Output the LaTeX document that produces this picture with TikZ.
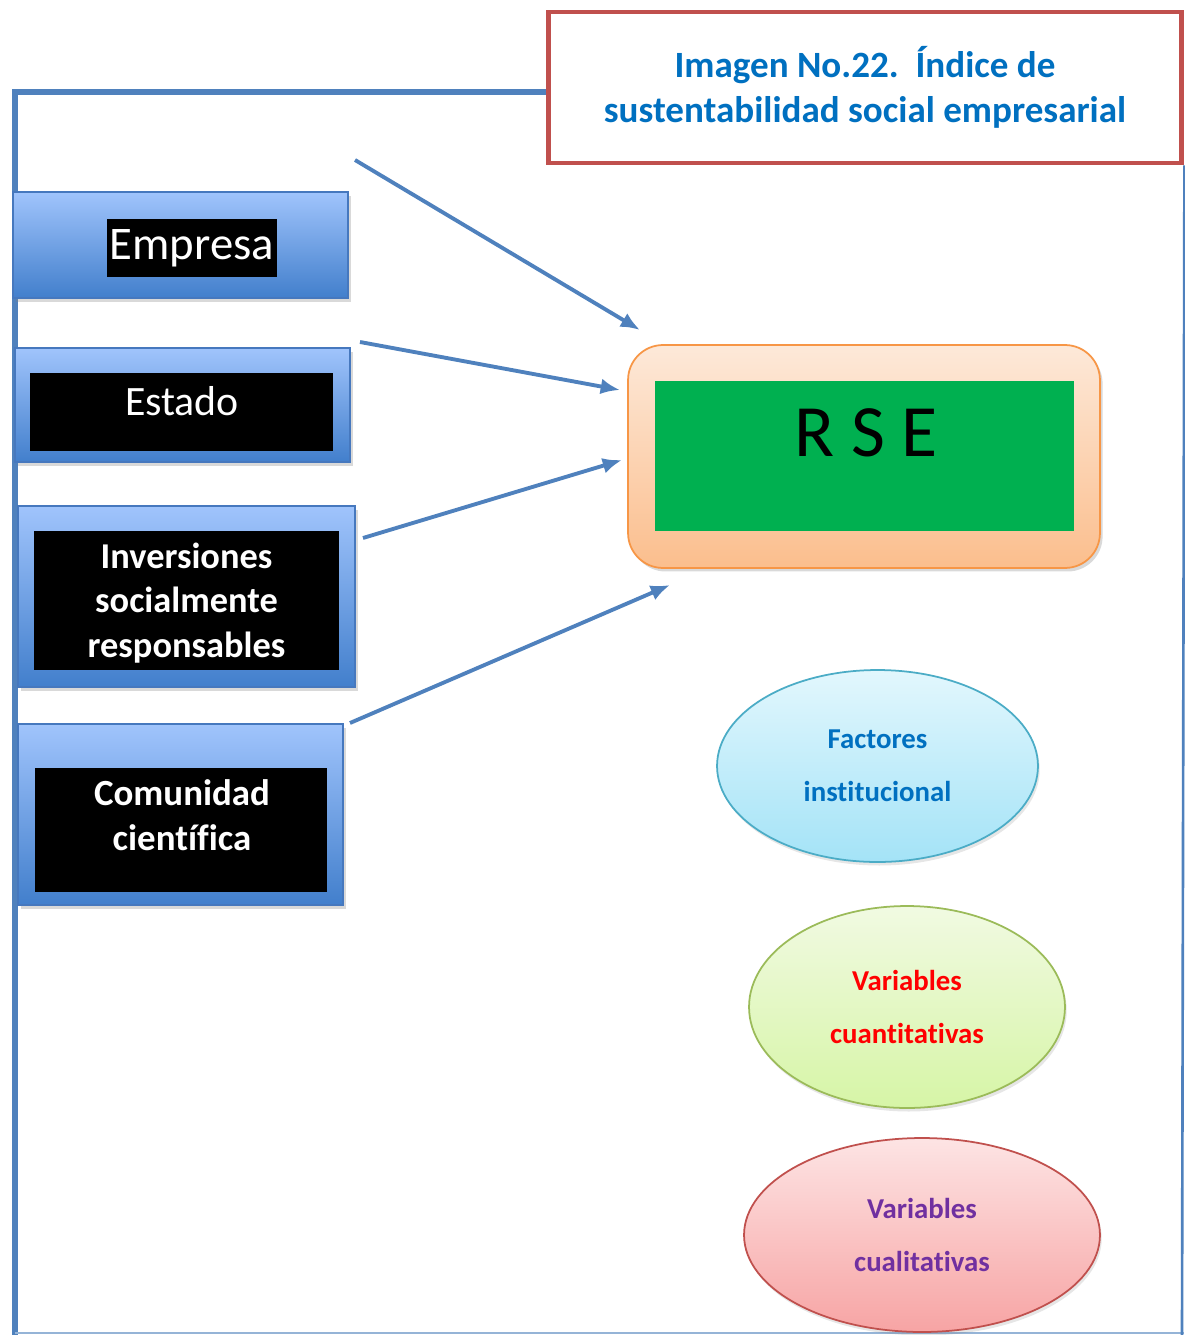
\documentclass[tikz,border=0pt]{standalone}
\usepackage{fontspec}
\setmainfont{Carlito}[Ligatures={NoCommon,NoRare,NoDiscretionary}]
\usepackage{xcolor}
\usetikzlibrary{positioning,shapes.geometric,shadows,arrows.meta}
\definecolor{lineblue}{RGB}{79,129,189}
\definecolor{boxtop}{RGB}{160,196,252}
\definecolor{boxbot}{RGB}{66,127,204}
\definecolor{boxedge}{RGB}{70,120,190}
\definecolor{titlered}{RGB}{192,80,77}
\definecolor{titleblue}{RGB}{0,112,192}
\definecolor{rsegreen}{RGB}{0,176,80}
\definecolor{orangetop}{RGB}{253,233,217}
\definecolor{orangebot}{RGB}{251,190,141}
\definecolor{orangeedge}{RGB}{247,150,70}
\definecolor{cyantop}{RGB}{226,247,253}
\definecolor{cyanbot}{RGB}{164,227,247}
\definecolor{cyanedge}{RGB}{75,172,198}
\definecolor{limetop}{RGB}{241,250,226}
\definecolor{limebot}{RGB}{214,245,166}
\definecolor{limeedge}{RGB}{155,187,89}
\definecolor{pinktop}{RGB}{253,228,228}
\definecolor{pinkbot}{RGB}{247,164,164}
\definecolor{pinkedge}{RGB}{192,80,77}
\definecolor{purpletext}{RGB}{112,48,160}

\begin{document}
\begin{tikzpicture}[x=0.02cm,y=-0.02cm,
    bluebox/.style={draw=boxedge,line width=0.8pt,top color=boxtop,bottom color=boxbot,
      drop shadow={opacity=0.3,shadow xshift=1.5pt,shadow yshift=-2pt}},
    blackbox/.style={fill=black,inner sep=0pt},
    whitetext/.style={text=white,inner sep=0pt,align=center},
    arrow/.style={->,>={Latex[length=11pt,width=9pt]},draw=lineblue,line width=2.2pt},
    oval/.style={ellipse,line width=1pt,inner sep=0pt,align=center,
      font=\bfseries\fontsize{16.4}{30}\selectfont,
      drop shadow={opacity=0.2,shadow xshift=1pt,shadow yshift=-2pt}}]
    \useasboundingbox (0,0) rectangle (1185,1335);
    \node[draw=titlered,line width=2.8pt,fill=white,minimum width=12.68cm,minimum height=3.02cm,
      align=center,text=titleblue,font=\bfseries\fontsize{21.1}{25.5}\selectfont] (title) at (865,87.5)
      {Imagen No.22.\ \ Índice de\\sustentabilidad social empresarial};
    \coordinate (corner) at (15,92);
    \coordinate (bottom) at (15,1333);
    \draw[lineblue,line width=3pt] (title.west |- corner) -- (corner) -- (15,1335);
    \draw[lineblue!60,line width=1pt] (bottom) -- (title.south east |- bottom);
    \draw[lineblue,line width=1.5pt] (title.south east) -- (1182,1335);
    \node[bluebox,minimum width=6.7cm,minimum height=2.12cm] (empresa) at (180.5,245) {};
    \node[blackbox,whitetext,minimum width=3.4cm,minimum height=1.16cm,font=\fontsize{26.6}{32}\selectfont] (empresatxt) at (192,248) {Empresa};
    \node[bluebox,minimum width=6.7cm,minimum height=2.28cm] (estado) at (182.5,405) {};
    \node[blackbox,minimum width=6.06cm,minimum height=1.56cm] (estadobg) at (181.5,412) {};
    \node[whitetext,font=\fontsize{23.8}{28}\selectfont] (estadotxt) at (182,401) {Estado};
    \node[bluebox,minimum width=6.74cm,minimum height=3.62cm] (inversiones) at (186.5,596.5) {};
    \node[blackbox,minimum width=6.1cm,minimum height=2.78cm] (inversionesbg) at (186.5,600.5) {};
    \node[whitetext,font=\bfseries\fontsize{20.7}{25.5}\selectfont] (inversionestxt) at (186.5,603)
      {Inversiones\\socialmente\\responsables};
    \node[bluebox,minimum width=6.5cm,minimum height=3.62cm] (comunidad) at (180.5,814.5) {};
    \node[blackbox,minimum width=5.84cm,minimum height=2.48cm] (comunidadbg) at (181,830) {};
    \node[whitetext,font=\bfseries\fontsize{21}{25.5}\selectfont] (comunidadtxt) at (182,815) {Comunidad\\científica};
    \node[draw=orangeedge,line width=1pt,rounded corners=0.7cm,top color=orangetop,bottom color=orangebot,
      minimum width=9.44cm,minimum height=4.46cm,
      drop shadow={opacity=0.3,shadow xshift=1.5pt,shadow yshift=-2pt}] (rse) at (864,456.5) {};
    \node[fill=rsegreen,minimum width=8.38cm,minimum height=3cm] (rsebg) at (864.5,456) {};
    \node[font=\fontsize{42}{48}\selectfont,inner sep=0pt] (rsetxt) at (866,433) {R S E};
    \coordinate (a1) at (355,160);
    \coordinate (b1) at (640,330);
    \coordinate (a2) at (360,342);
    \coordinate (b2) at (620,390);
    \coordinate (a3) at (363,538);
    \coordinate (b3) at (622,460);
    \coordinate (a4) at (350,723);
    \coordinate (b4) at (670,585);
    \draw[arrow] (a1) -- (b1);
    \draw[arrow] (a2) -- (b2);
    \draw[arrow] (a3) -- (b3);
    \draw[arrow] (a4) -- (b4);
    \node[oval,draw=cyanedge,top color=cyantop,bottom color=cyanbot,text=titleblue,
      minimum width=6.42cm,minimum height=3.84cm] (factores) at (877.5,766) {Factores\\institucional};
    \node[oval,draw=limeedge,top color=limetop,bottom color=limebot,text=red,
      minimum width=6.32cm,minimum height=4.04cm] (cuanti) at (907,1007) {Variables\\cuantitativas};
    \node[oval,draw=pinkedge,top color=pinktop,bottom color=pinkbot,text=purpletext,
      minimum width=7.12cm,minimum height=3.88cm] (cuali) at (922,1235) {Variables\\cualitativas};
\end{tikzpicture}
\end{document}
